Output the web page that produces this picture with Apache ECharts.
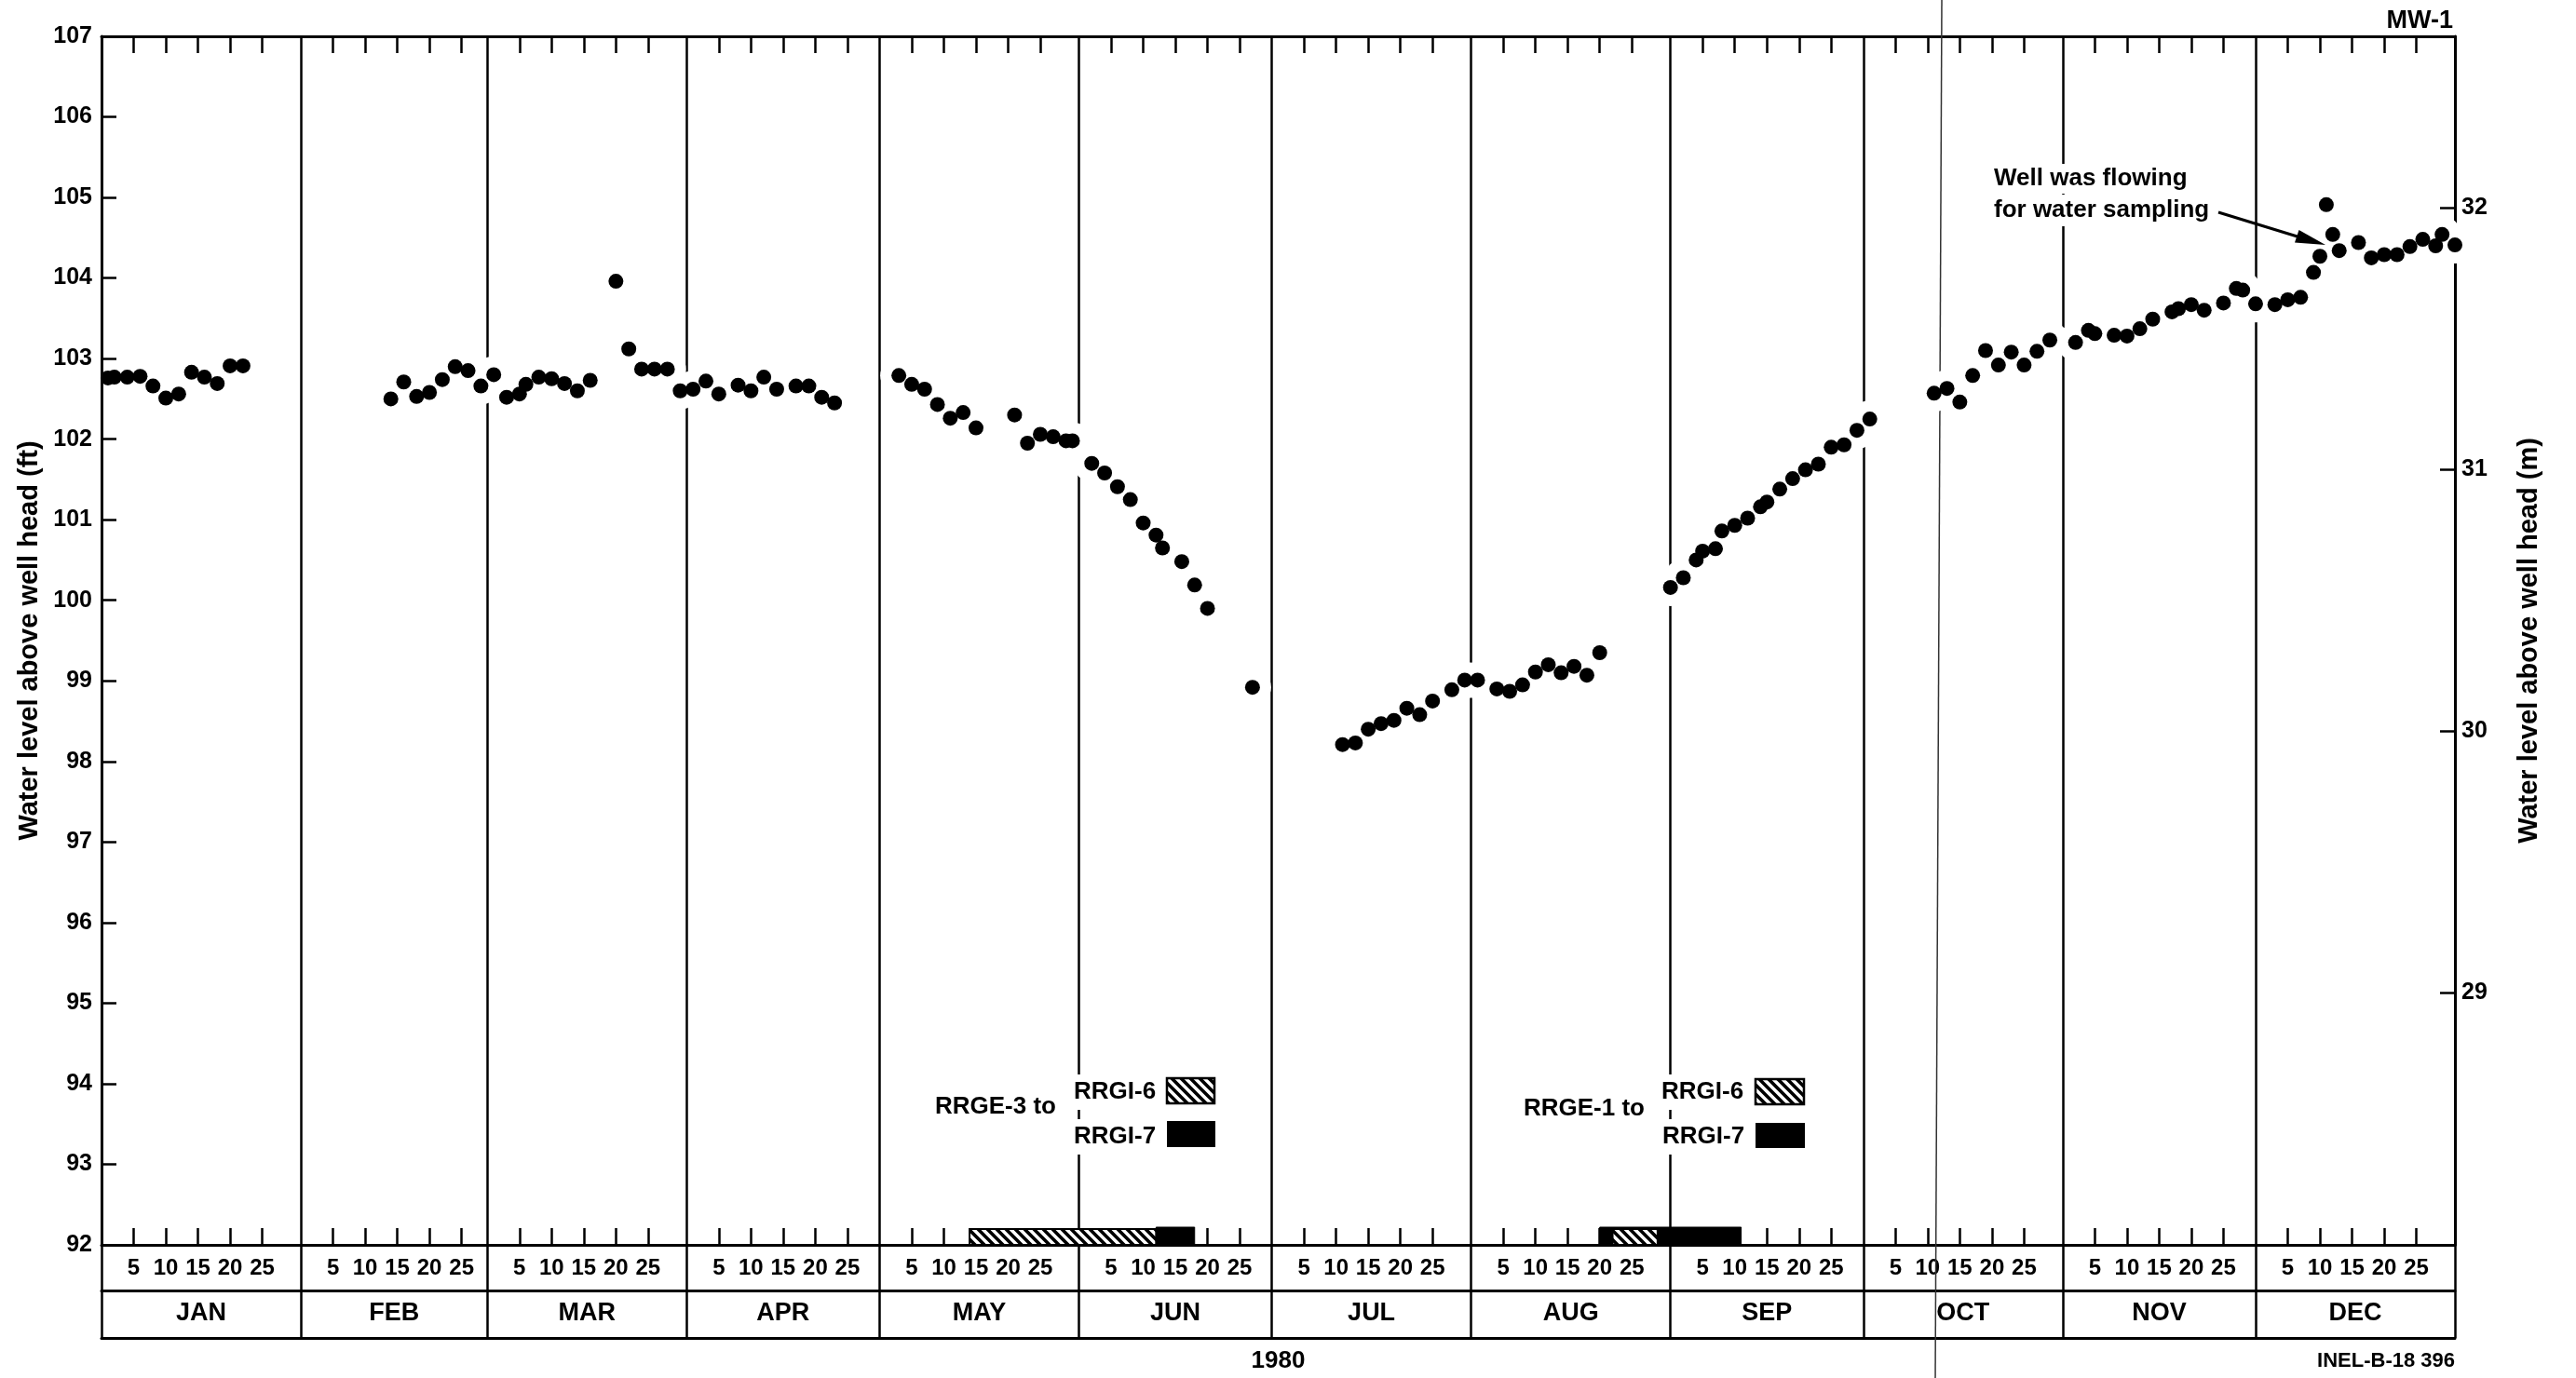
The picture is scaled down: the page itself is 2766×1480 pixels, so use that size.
<!DOCTYPE html>
<html>
<head>
<meta charset="utf-8">
<script src="https://cdn.jsdelivr.net/npm/echarts@6/dist/echarts.min.js"></script>
<style>html,body{margin:0;padding:0;background:#fff}#c{width:2766px;height:1480px}</style>
</head>
<body>
<div id="c"></div>
<script>
// ---------------- data ----------------
const monthNames = ['JAN','FEB','MAR','APR','MAY','JUN','JUL','AUG','SEP','OCT','NOV','DEC'];
const daysInMonth = [31,29,31,30,31,30,31,31,30,31,30,31]; // 1980
const dayTickLabels = [5,10,15,20,25];
const meterTickLabels = [29,30,31,32];
const levelMinFt = 92, levelMaxFt = 107;
const levelMinM = 28.038, levelMaxM = 32.656;

const readingDates = [
 '1/1','1/2','1/4','1/6','1/8','1/10','1/12','1/14','1/16','1/18','1/20','1/22',
 '2/14','2/16','2/18','2/20','2/22','2/24','2/26','2/28',
 '3/1','3/3','3/5','3/6','3/8','3/10','3/12','3/14','3/16','3/20','3/22','3/24','3/26','3/28','3/30',
 '4/1','4/3','4/5','4/8','4/10','4/12','4/14','4/17','4/19','4/21','4/23',
 '5/3','5/5','5/7','5/9','5/11','5/13','5/15','5/21','5/23','5/25','5/27','5/29','5/30',
 '6/2','6/4','6/6','6/8','6/10','6/12','6/13','6/16','6/18','6/20','6/27',
 '7/11','7/13','7/15','7/17','7/19','7/21','7/23','7/25','7/28','7/30',
 '8/1','8/4','8/6','8/8','8/10','8/12','8/14','8/16','8/18','8/20','8/31',
 '9/2','9/4','9/5','9/7','9/8','9/10','9/12','9/14','9/15','9/17','9/19','9/21','9/23','9/25','9/27','9/29',
 '10/1','10/11','10/13','10/15','10/17','10/19','10/21','10/23','10/25','10/27','10/29',
 '11/2','11/4','11/5','11/8','11/10','11/12','11/14','11/17','11/18','11/20','11/22','11/25','11/27','11/28','11/30',
 '12/3','12/5','12/7','12/9','12/10','12/11','12/12','12/13','12/16','12/18','12/20','12/22','12/24','12/26','12/28','12/29','12/31'
];
const waterLevelFt = [
 102.76,102.77,102.77,102.78,102.66,102.51,102.56,102.83,102.77,102.69,102.91,102.91,
 102.50,102.71,102.53,102.58,102.74,102.90,102.85,102.66,
 102.80,102.52,102.56,102.68,102.77,102.75,102.69,102.60,102.73,103.96,103.12,102.87,102.87,102.87,102.60,
 102.62,102.72,102.56,102.67,102.60,102.77,102.62,102.66,102.66,102.52,102.45,
 102.79,102.68,102.62,102.43,102.26,102.33,102.14,102.30,101.95,102.06,102.03,101.98,101.98,
 101.70,101.58,101.41,101.25,100.96,100.81,100.65,100.48,100.19,99.90,98.92,
 98.21,98.23,98.40,98.47,98.51,98.66,98.58,98.75,98.89,99.01,
 99.01,98.90,98.87,98.95,99.11,99.20,99.10,99.18,99.07,99.35,100.16,
 100.28,100.50,100.61,100.64,100.86,100.93,101.02,101.16,101.22,101.38,101.51,101.62,101.69,101.90,101.93,102.11,
 102.25,102.57,102.63,102.46,102.79,103.10,102.92,103.08,102.92,103.09,103.23,
 103.20,103.35,103.31,103.29,103.28,103.37,103.49,103.58,103.62,103.67,103.60,103.69,103.87,103.85,103.68,
 103.67,103.73,103.76,104.07,104.27,104.91,104.54,104.34,104.44,104.25,104.29,104.29,104.39,104.48,104.40,104.54,104.41
];
// pumping periods (first day, last day)
const rrgi6Periods = [['5/15','6/12'],['8/23','8/29']];   // hatched
const rrgi7Periods = [['6/13','6/18'],['8/21','9/11']];   // solid

// ---------------- helpers ----------------
const FONT = "'Liberation Sans', Arial, Helvetica, sans-serif";
const monthStart = []; let acc = 0;
daysInMonth.forEach(n => { monthStart.push(acc); acc += n; });
const yearDays = acc;
function doy(s){ const p = s.split('/').map(Number); return monthStart[p[0]-1] + p[1]; }
function monthOf(v){ for (let i = 11; i >= 0; i--) if (v >= monthStart[i]) return i; return 0; }
function dayOfMonth(v){ for (let i = 11; i >= 0; i--) if (v > monthStart[i]) return Math.round(v - monthStart[i]); return 0; }

const points = readingDates.map((s, i) => [doy(s), waterLevelFt[i]]);
const haloPoints = points.filter(p => p[0] > 3);   // keep the left frame unbroken
const dayTickValues = [];
monthStart.forEach(s => dayTickLabels.forEach(d => dayTickValues.push(s + d)));
const monthEdges = monthStart.concat([yearDays]);
const monthMids = monthStart.map((s, i) => s + daysInMonth[i] / 2);
const periodData = list => list.map(p => [doy(p[0]) - 1, doy(p[1])]);

function makeHatch(){
  const s = 10, c = document.createElement('canvas');
  c.width = s; c.height = s;
  const g = c.getContext('2d');
  g.fillStyle = '#fff'; g.fillRect(0, 0, s, s);
  g.strokeStyle = '#000'; g.lineWidth = 3.6; g.beginPath();
  for (let k = -2; k <= 2; k++) { g.moveTo(k*s - s, -s); g.lineTo(k*s + 2*s, 2*s); }
  g.stroke();
  return c;
}
const hatchCanvas = makeHatch();
const hatch = () => ({ image: hatchCanvas, repeat: 'repeat' });

function periodRender(height, kind){
  return function(params, api){
    const a = api.coord([api.value(0), levelMinFt]);
    const b = api.coord([api.value(1), levelMinFt]);
    return {
      type: 'rect',
      shape: { x: a[0], y: a[1] - height, width: b[0] - a[0], height: height },
      style: kind === 'hatch' ? { fill: hatch(), stroke: '#000', lineWidth: 2 } : { fill: '#000', stroke: '#000', lineWidth: 1 }
    };
  };
}

const blackLine = w => ({ color: '#000', width: w });
const baseX = { type: 'value', min: 0, max: yearDays, gridIndex: 0 };

const chart = echarts.init(document.getElementById('c'), null, { renderer: 'canvas', width: 2766, height: 1480 });

const txt = (text, x, y, opt) => Object.assign({
  type: 'text', x: x, y: y, z: 100,
  style: Object.assign({ text: text, fill: '#000', fontFamily: FONT, fontSize: 26, fontWeight: 'bold', align: 'left', verticalAlign: 'middle' }, opt || {})
});

const option = {
  backgroundColor: '#fff',
  animation: false,
  textStyle: { fontFamily: FONT },
  grid: { left: 109, right: 130, top: 39, bottom: 140, show: false },
  xAxis: [
    Object.assign({}, baseX, { // data axis with day ticks/labels
      position: 'bottom', offset: 0,
      axisLine: { show: true, onZero: false, lineStyle: blackLine(3) },
      axisTick: { show: true, inside: true, length: 18, customValues: dayTickValues, lineStyle: blackLine(2.5) },
      axisLabel: { show: true, customValues: dayTickValues, formatter: v => String(dayOfMonth(v)), margin: 13,
                   color: '#000', fontSize: 24, fontWeight: 'bold', fontFamily: FONT },
      splitLine: { show: false }
    }),
    Object.assign({}, baseX, { // month boundaries
      position: 'bottom', offset: 0,
      axisLine: { show: false, onZero: false },
      axisTick: { show: true, inside: false, length: 100, customValues: monthEdges, lineStyle: blackLine(2.5) },
      axisLabel: { show: false },
      splitLine: { show: true, lineStyle: blackLine(2.5) }
    }),
    Object.assign({}, baseX, { // month names
      position: 'bottom', offset: 49,
      axisLine: { show: true, onZero: false, lineStyle: blackLine(3) },
      axisTick: { show: false },
      axisLabel: { show: true, customValues: monthMids, formatter: v => monthNames[monthOf(v)], margin: 11,
                   color: '#000', fontSize: 27, fontWeight: 'bold', fontFamily: FONT },
      splitLine: { show: false }
    }),
    Object.assign({}, baseX, { // bottom frame + year
      position: 'bottom', offset: 100,
      axisLine: { show: true, onZero: false, lineStyle: blackLine(3) },
      axisTick: { show: false }, axisLabel: { show: false }, splitLine: { show: false },
      name: '1980', nameLocation: 'middle', nameGap: 12,
      nameTextStyle: { color: '#000', fontSize: 26, fontWeight: 'bold', fontFamily: FONT }
    }),
    Object.assign({}, baseX, { // top frame
      position: 'top', offset: 0,
      axisLine: { show: true, onZero: false, lineStyle: blackLine(3) },
      axisTick: { show: true, inside: true, length: 18, customValues: dayTickValues, lineStyle: blackLine(2.5) },
      axisLabel: { show: false }, splitLine: { show: false }
    })
  ],
  yAxis: [
    {
      type: 'value', min: levelMinFt, max: levelMaxFt, interval: 1, position: 'left',
      axisLine: { show: true, onZero: false, lineStyle: blackLine(3) },
      axisTick: { show: true, inside: true, length: 16, lineStyle: blackLine(2.5) },
      axisLabel: { margin: 10, color: '#000', fontSize: 25, fontWeight: 'bold', fontFamily: FONT },
      splitLine: { show: false },
      name: 'Water level above well head (ft)', nameLocation: 'middle', nameRotate: 90, nameGap: 58,
      nameTextStyle: { color: '#000', fontSize: 29, fontWeight: 'bold', fontFamily: FONT }
    },
    {
      type: 'value', min: levelMinM, max: levelMaxM, position: 'right',
      axisLine: { show: true, onZero: false, lineStyle: blackLine(3) },
      axisTick: { show: true, inside: true, length: 16, customValues: meterTickLabels, lineStyle: blackLine(2.5) },
      axisLabel: { customValues: meterTickLabels, margin: 7, color: '#000', fontSize: 25, fontWeight: 'bold', fontFamily: FONT },
      splitLine: { show: false },
      name: 'Water level above well head (m)', nameLocation: 'middle', nameRotate: 90, nameGap: 65,
      nameTextStyle: { color: '#000', fontSize: 29, fontWeight: 'bold', fontFamily: FONT }
    }
  ],
  series: [
    { // white halo that breaks the month lines around the dots
      type: 'scatter', name: 'halo', xAxisIndex: 0, yAxisIndex: 0, z: 3, silent: true,
      symbol: 'circle', symbolSize: 40, itemStyle: { color: '#fff', opacity: 1 },
      data: haloPoints
    },
    {
      type: 'scatter', name: 'Water level', xAxisIndex: 0, yAxisIndex: 0, z: 4, silent: true,
      symbol: 'circle', symbolSize: 16, itemStyle: { color: '#000', opacity: 1 },
      data: points
    },
    {
      type: 'custom', name: 'RRGI-7', xAxisIndex: 0, yAxisIndex: 0, z: 5, silent: true,
      renderItem: periodRender(19, 'solid'), encode: { x: [0, 1] }, data: periodData(rrgi7Periods)
    },
    {
      type: 'custom', name: 'RRGI-6', xAxisIndex: 0, yAxisIndex: 0, z: 6, silent: true,
      renderItem: periodRender(17, 'hatch'), encode: { x: [0, 1] }, data: periodData(rrgi6Periods)
    }
  ],
  graphic: [
    // thin scan line running through the whole sheet
    { type: 'line', z: 1, silent: true, shape: { x1: 2085, y1: 0, x2: 2078, y2: 1480 }, style: { stroke: '#333', lineWidth: 1.5 } },
    txt('MW-1', 2634, 23, { align: 'right', fontSize: 27 }),
    txt('Well was flowing', 2137, 192, { backgroundColor: '#fff', padding: [4, 4, 2, 4] }),
    txt('for water sampling', 2137, 226, { backgroundColor: '#fff', padding: [2, 4, 6, 4] }),
    { type: 'line', z: 100, shape: { x1: 2382, y1: 228, x2: 2470, y2: 255 }, style: { stroke: '#000', lineWidth: 3 } },
    { type: 'polygon', z: 100, shape: { points: [[2497, 263], [2464, 260.5], [2468.5, 247]] }, style: { fill: '#000' } },
    // legend 1
    txt('RRGE-3 to', 1004, 1189),
    txt('RRGI-6', 1149, 1173, { backgroundColor: '#fff', padding: [6, 6, 6, 4] }),
    txt('RRGI-7', 1149, 1221, { backgroundColor: '#fff', padding: [6, 6, 6, 4] }),
    { type: 'rect', z: 100, shape: { x: 1253, y: 1158, width: 51, height: 27 }, style: { fill: hatch(), stroke: '#000', lineWidth: 2.5 } },
    { type: 'rect', z: 100, shape: { x: 1253, y: 1204, width: 52, height: 28 }, style: { fill: '#000' } },
    // legend 2
    txt('RRGE-1 to', 1636, 1191),
    txt('RRGI-6', 1780, 1173, { backgroundColor: '#fff', padding: [6, 6, 6, 4] }),
    txt('RRGI-7', 1781, 1221, { backgroundColor: '#fff', padding: [6, 6, 6, 4] }),
    { type: 'rect', z: 100, shape: { x: 1885, y: 1159, width: 52, height: 27 }, style: { fill: hatch(), stroke: '#000', lineWidth: 2.5 } },
    { type: 'rect', z: 100, shape: { x: 1885, y: 1206, width: 53, height: 27 }, style: { fill: '#000' } },
    // figure id
    txt('INEL-B-18 396', 2636, 1462, { align: 'right', fontSize: 22 })
  ]
};
chart.setOption(option);
</script>
</body>
</html>
